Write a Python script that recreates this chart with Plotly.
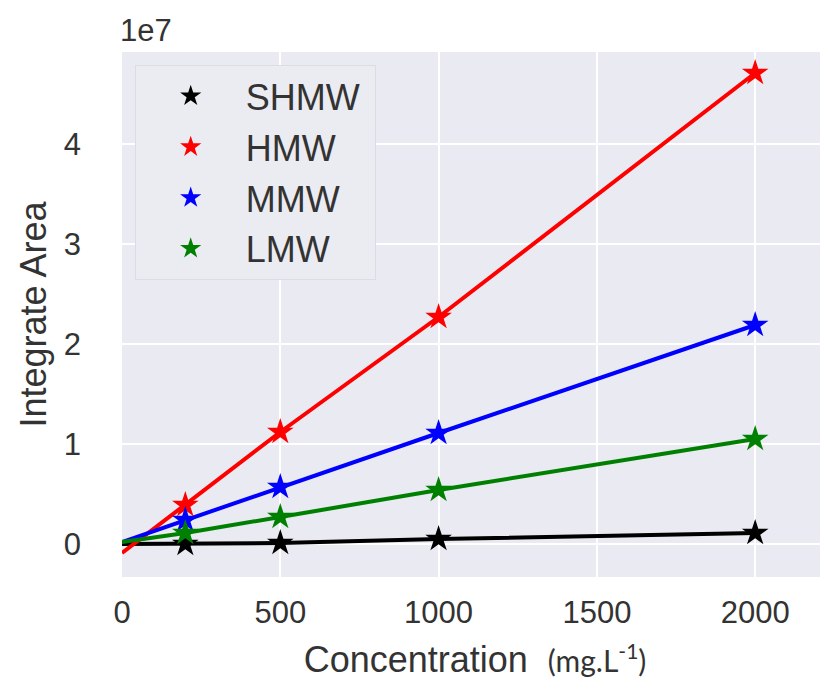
import plotly.graph_objects as go

# Data
conc = [200, 500, 1000, 2000]
line_x = [0, 200, 500, 1000, 2000]
series_names = ["SHMW", "HMW", "MMW", "LMW"]
shmw = [0.0e7, 0.01e7, 0.05e7, 0.11e7]
hmw = [0.39e7, 1.12e7, 2.27e7, 4.71e7]
mmw = [0.24e7, 0.57e7, 1.11e7, 2.19e7]
lmw = [0.11e7, 0.27e7, 0.54e7, 1.05e7]
intercepts = [0.0e7, -0.09e7, 0.02e7, 0.02e7]
colors = ["#000000", "#ff0000", "#0000ff", "#008000"]
y_ticks = [0, 1e7, 2e7, 3e7, 4e7]
y_ticktext = ["0", "1", "2", "3", "4"]
x_ticks = [0, 500, 1000, 1500, 2000]

fig = go.Figure()
all_vals = [shmw, hmw, mmw, lmw]
for name, vals, c, b in zip(series_names, all_vals, colors, intercepts):
    fig.add_trace(go.Scatter(x=line_x, y=[b] + vals, mode="lines",
                             line=dict(color=c, width=4), showlegend=False,
                             hoverinfo="skip"))
for name, vals, c in zip(series_names, all_vals, colors):
    fig.add_trace(go.Scatter(x=conc, y=vals, mode="markers", name=name + "\u00a0",
                             legendgroup=name,
                             marker=dict(symbol="star", size=20, color=c,
                                         line=dict(width=0))))

font_family = "Liberation Sans, Arial, sans-serif"
fig.update_layout(
    width=820, height=672,
    margin=dict(l=114, r=0, t=44, b=103, autoexpand=False),
    paper_bgcolor="white",
    plot_bgcolor="#eaeaf2",
    font=dict(family=font_family, size=31, color="#333333"),
    showlegend=True,
    legend=dict(x=0.018, y=0.975, xanchor="left", yanchor="top",
                bgcolor="#ebebf2", bordercolor="#dcdce4", borderwidth=1,
                font=dict(size=36, color="#333333"),
                itemwidth=100, tracegroupgap=1),
    xaxis=dict(range=[0, 2230], tickvals=x_ticks, showgrid=True,
               gridcolor="white", gridwidth=1.5, zeroline=False,
               ticks="", ticklen=0, showline=False, automargin=False,
               ticklabelstandoff=14,
               title=dict(text='Concentration  <span style="font-family:Lato;font-size:30px">(mg.L<sup>-1</sup>)</span>',
                          font=dict(size=36), standoff=30)),
    yaxis=dict(range=[-0.33e7, 4.92e7], tickvals=y_ticks, ticktext=y_ticktext,
               showgrid=True, gridcolor="white", gridwidth=1.5, zeroline=False,
               ticks="", showline=False, automargin=False,
               ticklabelstandoff=40,
               title=dict(text="Integrate Area", font=dict(size=36), standoff=6)),
    annotations=[dict(text="1e7", xref="paper", yref="paper", x=-0.006, y=1.0,
                      xanchor="left", yanchor="bottom", showarrow=False,
                      yshift=2, font=dict(size=31, color="#333333"))],
)

fig.write_html("out.html")
